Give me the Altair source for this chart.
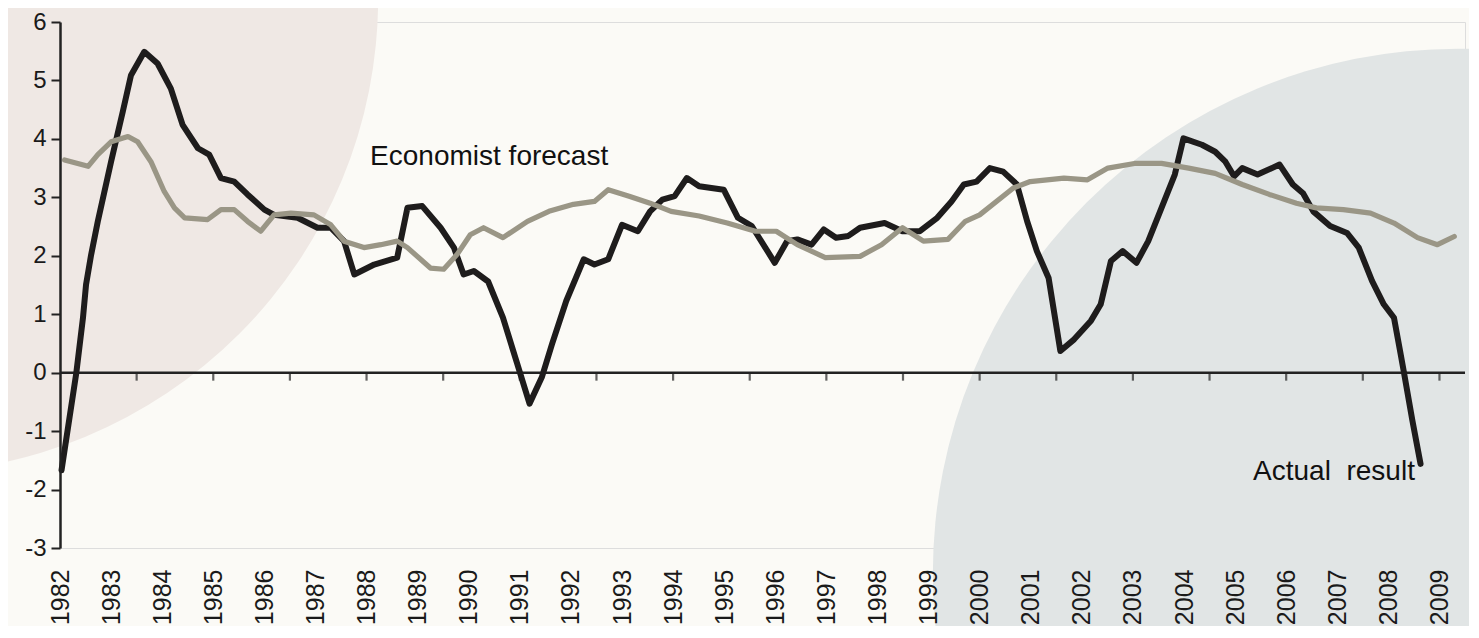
import altair as alt
import pandas as pd

# ---- data ----
actual_year = [1982.03, 1982.32, 1982.45, 1982.51, 1982.61, 1982.74, 1983.0, 1983.23, 1983.39, 1983.65,
               1983.91, 1984.17, 1984.4, 1984.7, 1984.92, 1985.15, 1985.41, 1985.67, 1986.0, 1986.19,
               1986.65, 1987.04, 1987.3, 1987.56, 1987.76, 1988.15, 1988.6, 1988.8, 1989.09, 1989.45,
               1989.71, 1989.9, 1990.1, 1990.38, 1990.67, 1990.95, 1991.19, 1991.43, 1991.63, 1991.91,
               1992.25, 1992.46, 1992.73, 1993.0, 1993.31, 1993.55, 1993.79, 1994.03, 1994.27, 1994.51,
               1994.99, 1995.27, 1995.54, 1995.99, 1996.23, 1996.43, 1996.71, 1996.95, 1997.19, 1997.43,
               1997.66, 1998.14, 1998.49, 1998.83, 1999.17, 1999.45, 1999.69, 1999.94, 2000.2, 2000.46,
               2000.73, 2000.93, 2001.12, 2001.35, 2001.58, 2001.85, 2002.18, 2002.37, 2002.57, 2002.8,
               2003.07, 2003.3, 2003.56, 2003.82, 2003.99, 2004.35, 2004.61, 2004.81, 2004.98, 2005.14,
               2005.44, 2005.87, 2006.13, 2006.33, 2006.53, 2006.86, 2007.19, 2007.42, 2007.68, 2007.91,
               2008.11, 2008.24, 2008.3, 2008.47, 2008.63]
actual_value = [-1.67, 0.0, 0.94, 1.51, 2.02, 2.59, 3.61, 4.47, 5.09, 5.49,
                5.29, 4.86, 4.24, 3.84, 3.73, 3.33, 3.27, 3.05, 2.79, 2.7,
                2.65, 2.48, 2.48, 2.25, 1.68, 1.85, 1.97, 2.82, 2.85, 2.48,
                2.14, 1.68, 1.74, 1.56, 0.94, 0.15, -0.53, -0.08, 0.49, 1.23,
                1.94, 1.85, 1.94, 2.53, 2.42, 2.76, 2.96, 3.02, 3.33, 3.19,
                3.13, 2.65, 2.51, 1.88, 2.25, 2.28, 2.19, 2.45, 2.31, 2.34,
                2.48, 2.56, 2.42, 2.42, 2.65, 2.93, 3.22, 3.27, 3.5, 3.44,
                3.22, 2.59, 2.08, 1.62, 0.37, 0.57, 0.89, 1.17, 1.91, 2.08,
                1.88, 2.25, 2.82, 3.39, 4.01, 3.9, 3.78, 3.61, 3.36, 3.5,
                3.39, 3.56, 3.22, 3.07, 2.76, 2.51, 2.39, 2.14, 1.57, 1.17,
                0.94, 0.32, 0.03, -0.82, -1.56]

forecast_year = [1982.09, 1982.55, 1982.74, 1983.0, 1983.33, 1983.52, 1983.78, 1984.04, 1984.24, 1984.44,
                 1984.89, 1985.15, 1985.41, 1985.67, 1985.93, 1986.19, 1986.52, 1986.97, 1987.3, 1987.56,
                 1987.95, 1988.28, 1988.6, 1988.8, 1989.25, 1989.51, 1989.77, 1990.03, 1990.29, 1990.67,
                 1991.15, 1991.57, 1992.05, 1992.46, 1992.73, 1993.14, 1993.55, 1993.96, 1994.51, 1995.06,
                 1995.61, 1996.02, 1996.43, 1996.98, 1997.66, 1998.08, 1998.49, 1998.9, 1999.38, 1999.72,
                 2000.0, 2000.66, 2000.99, 2001.65, 2002.11, 2002.51, 2003.03, 2003.56, 2004.09, 2004.61,
                 2005.14, 2005.67, 2006.2, 2006.59, 2007.12, 2007.65, 2008.11, 2008.57, 2008.96, 2009.29]
forecast_value = [3.64, 3.53, 3.73, 3.95, 4.04, 3.95, 3.61, 3.1, 2.82, 2.65,
                  2.62, 2.79, 2.79, 2.59, 2.42, 2.7, 2.73, 2.7, 2.53, 2.25,
                  2.14, 2.19, 2.25, 2.14, 1.79, 1.77, 2.02, 2.36, 2.48, 2.31,
                  2.59, 2.76, 2.88, 2.93, 3.13, 3.02, 2.9, 2.76, 2.68, 2.56,
                  2.42, 2.42, 2.19, 1.97, 1.99, 2.19, 2.48, 2.25, 2.28, 2.59,
                  2.7, 3.16, 3.27, 3.33, 3.3, 3.5, 3.58, 3.58, 3.5, 3.41,
                  3.22, 3.05, 2.9, 2.82, 2.79, 2.73, 2.56, 2.31, 2.19, 2.33]

year_labels = list(range(1982, 2010))
value_ticks = [-3, -2, -1, 0, 1, 2, 3, 4, 5, 6]
zero_tick_years = [1983.5, 1985, 1986.5, 1988, 1989.5, 1991, 1992.5, 1994, 1995.5,
                   1997, 1998.5, 2000, 2001.5, 2003, 2004.5, 2006, 2007.5, 2009]

label_text = ["Economist forecast", "Actual\u00a0 result"]
label_year = [1988.07, 2008.52]
label_value = [3.56, -1.84]

# decorative background discs (centre in data units; symbol size = (2r)^2 px^2)
bg_year = [1978.93, 2009.36]
bg_value = [6.41, -3.44]
bg_area = [902500, 1102500]
bg_color = ["#efe8e4", "#e1e5e5"]

# ---- chart ----
x_scale = alt.Scale(domain=[1982, 2009.5], nice=False, zero=False)
y_scale = alt.Scale(domain=[-3, 6], nice=False, zero=False)
x_axis = alt.Axis(values=year_labels, format="d", labelAngle=-90, labelFontSize=25,
                  labelPadding=21, ticks=False, domain=False, grid=False, title=None,
                  labelColor="#1a1a1a", labelFont="Liberation Sans", zindex=1)
y_axis = alt.Axis(values=value_ticks, labelExpr="toString(datum.value)", labelFontSize=24,
                  labelPadding=5, tickSize=9, tickWidth=2, tickColor="#222222",
                  domainWidth=2.5, domainColor="#222222", grid=False, title=None,
                  labelColor="#1a1a1a", labelFont="Liberation Sans", zindex=1)


def X():
    return alt.X("year:Q", scale=x_scale, axis=x_axis)


def Y():
    return alt.Y("value:Q", scale=y_scale, axis=y_axis)


bg_df = pd.DataFrame({"year": bg_year, "value": bg_value, "area": bg_area, "color": bg_color})
actual_df = pd.DataFrame({"year": actual_year, "value": actual_value})
forecast_df = pd.DataFrame({"year": forecast_year, "value": forecast_value})
zero_df = pd.DataFrame({"value": [0]})
ticks_df = pd.DataFrame({"year": zero_tick_years, "value": [0] * len(zero_tick_years)})
lab_df = pd.DataFrame({"year": label_year, "value": label_value, "text": label_text})

bg = alt.Chart(bg_df).mark_circle(opacity=1).encode(
    x=X(), y=Y(),
    size=alt.Size("area:Q", scale=None, legend=None),
    color=alt.Color("color:N", scale=None, legend=None),
)

zero_rule = alt.Chart(zero_df).mark_rule(color="#222222", strokeWidth=2.5).encode(y=Y())

zero_ticks = alt.Chart(ticks_df).mark_tick(
    orient="vertical", size=8, thickness=2.2, yOffset=4, color="#222222"
).encode(x=X(), y=Y())

actual = alt.Chart(actual_df).mark_line(
    color="#1e1c1c", strokeWidth=6, strokeJoin="round", strokeCap="round"
).encode(x=X(), y=Y())

forecast = alt.Chart(forecast_df).mark_line(
    color="#9a9686", strokeWidth=5.2, strokeJoin="round", strokeCap="round"
).encode(x=X(), y=Y())

lab1 = alt.Chart(lab_df.iloc[[0]]).mark_text(
    align="left", baseline="alphabetic", fontSize=28, font="Liberation Sans", color="#111111"
).encode(x=X(), y=Y(), text="text:N")

lab2 = alt.Chart(lab_df.iloc[[1]]).mark_text(
    align="right", baseline="alphabetic", fontSize=28, font="Liberation Sans", color="#111111"
).encode(x=X(), y=Y(), text="text:N")

chart = alt.layer(bg, zero_rule, zero_ticks, actual, forecast, lab1, lab2).properties(
    width=1405,
    height=526,
    autosize=alt.AutoSizeParams(type="none"),
    padding={"left": 52, "top": 14, "right": 4, "bottom": 78},
    background="#fbfaf6",
).configure_view(strokeWidth=0).configure(font="Liberation Sans")

chart.save("out.html", embed_options={"renderer": "svg", "actions": False})
